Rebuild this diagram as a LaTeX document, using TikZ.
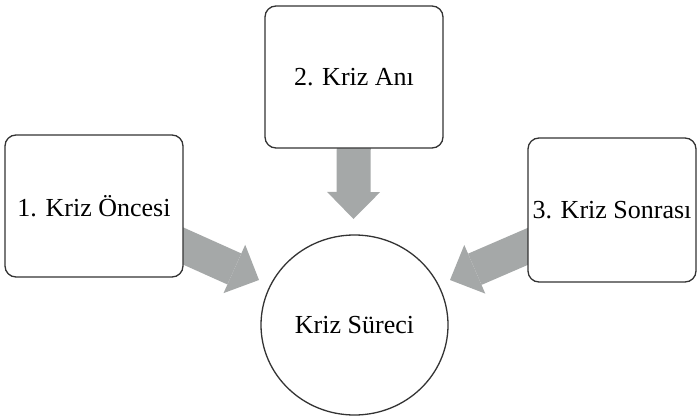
\documentclass[tikz,border=0pt]{standalone}
\usepackage{fontspec}
\setmainfont{Liberation Serif}
\usetikzlibrary{arrows.meta,shapes.geometric}
\definecolor{arrgray}{HTML}{A5A8A8}
\definecolor{edgegray}{HTML}{333333}
\begin{document}
\begin{tikzpicture}[x=1pt,y=-1pt,
  box/.style={draw=edgegray, line width=1.3pt, rounded corners=11pt, fill=white,
    minimum width=178pt, minimum height=142pt, inner sep=0pt,
    font=\fontsize{26}{30}\selectfont},
  bigarrow/.style={draw=arrgray, line width=34pt,
    -{Triangle[length=27pt,width=53pt,line width=0pt]}}]
\useasboundingbox (0,0) rectangle (698,417);
\coordinate (c1) at (94,206);
\coordinate (c2) at (354,77);
\coordinate (c3) at (612,210);
\coordinate (t1) at (259,280);
\coordinate (t2) at (353.5,219);
\coordinate (t3) at (450,280);
\draw[bigarrow] (c1) -- (t1);
\draw[bigarrow] (c2) -- (t2);
\draw[bigarrow] (c3) -- (t3);
\node[box] (b1) at (c1) {1. Kriz Öncesi};
\node[box] (b2) at (c2) {2. Kriz Anı};
\node[box, minimum width=168pt, minimum height=144pt] (b3) at (c3) {3. Kriz Sonrası};
\node[ellipse, draw=edgegray, line width=1.3pt, fill=white, minimum width=187pt,
  minimum height=180pt, inner sep=0pt, font=\fontsize{26}{30}\selectfont]
  (k) at (354.5,325) {Kriz Süreci};
\end{tikzpicture}
\end{document}
